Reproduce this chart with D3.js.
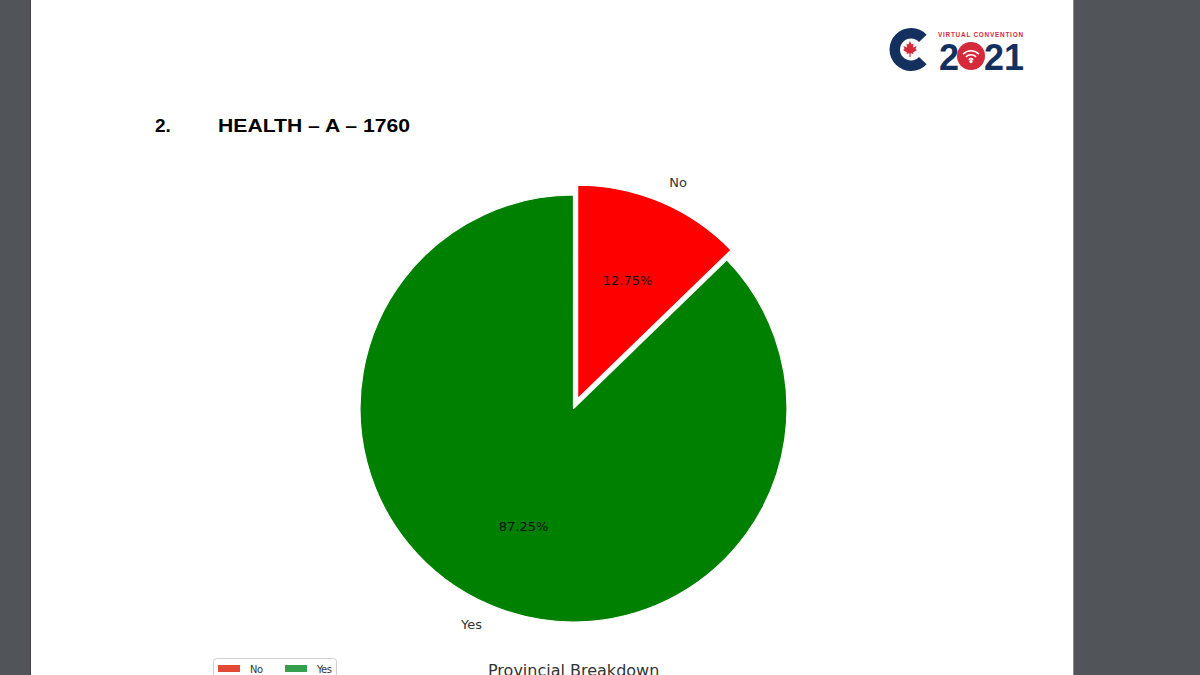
<!DOCTYPE html>
<html>
<head>
<meta charset="utf-8">
<script src="https://cdn.jsdelivr.net/npm/d3@7"></script>
<style>
  html, body { margin: 0; padding: 0; background: #515559; }
  svg { display: block; }
</style>
</head>
<body>
<svg id="chart" width="1200" height="675"></svg>
<script>
// ---- data ----
const categories = ["No", "Yes"];
const values = [12.75, 87.25];
const explode = [0.05, 0];
const sliceColors = ["#ff0000", "#008000"];
const legendColors = ["#e24a33", "#34a04f"];
const titleNumber = "2.";
const titleText = "HEALTH \u2013 A \u2013 1760";
const nextTitle = "Provincial Breakdown";

const svg = d3.select("#chart");

// page
svg.append("rect").attr("x", 0).attr("y", 0).attr("width", 1200).attr("height", 675).attr("fill", "#515559");
svg.append("rect").attr("x", 30).attr("y", 0).attr("width", 1044).attr("height", 675).attr("fill", "#ffffff");
svg.append("line").attr("x1", 30.5).attr("x2", 30.5).attr("y1", 0).attr("y2", 675).attr("stroke", "#3f4346").attr("stroke-width", 1);
svg.append("line").attr("x1", 1073.5).attr("x2", 1073.5).attr("y1", 0).attr("y2", 675).attr("stroke", "#8a8e90").attr("stroke-width", 1);

// title
svg.append("text").attr("x", 155).attr("y", 132)
  .attr("font-family", "Liberation Sans, Arial, sans-serif").attr("font-weight", "bold")
  .attr("font-size", 19).attr("fill", "#000").text(titleNumber);
svg.append("text").attr("x", 218).attr("y", 132)
  .attr("font-family", "Liberation Sans, Arial, sans-serif").attr("font-weight", "bold")
  .attr("font-size", 19).attr("fill", "#000")
  .attr("textLength", 192).attr("lengthAdjust", "spacingAndGlyphs")
  .text(titleText);

// logo
const logo = svg.append("g");
const navy = "#13305f", lred = "#d42a3a";
const cArc = d3.arc().innerRadius(11).outerRadius(21.5)
  .startAngle(Math.PI * 0.74).endAngle(Math.PI * 2.26);
logo.append("path").attr("transform", "translate(911,49.5)").attr("d", cArc()).attr("fill", navy);
// maple leaf (simplified)
const leaf = "M0,-8 L1.6,-4.5 L3.5,-5.5 L3,-1.5 L6.5,-3 L5.5,0 L7,1 L3,3.5 L3.5,5 L0.6,4.2 L0.6,8 L-0.6,8 L-0.6,4.2 L-3.5,5 L-3,3.5 L-7,1 L-5.5,0 L-6.5,-3 L-3,-1.5 L-3.5,-5.5 L-1.6,-4.5 Z";
logo.append("path").attr("transform", "translate(910,49)").attr("d", leaf).attr("fill", lred);
logo.append("text").attr("x", 938).attr("y", 37)
  .attr("font-family", "Liberation Sans, Arial, sans-serif").attr("font-weight", "bold")
  .attr("font-size", 6.4).attr("fill", lred)
  .attr("textLength", 85).attr("lengthAdjust", "spacing").text("VIRTUAL CONVENTION");
logo.append("text").attr("x", 939).attr("y", 70)
  .attr("font-family", "Liberation Sans, Arial, sans-serif").attr("font-weight", "bold")
  .attr("font-size", 36).attr("fill", navy).text("2");
logo.append("circle").attr("cx", 971).attr("cy", 56).attr("r", 14).attr("fill", lred);
const wifi = logo.append("g").attr("transform", "translate(971,62)");
[4, 8, 12].forEach(r => {
  wifi.append("path")
    .attr("d", d3.arc().innerRadius(r - 1.6).outerRadius(r).startAngle(-Math.PI / 4).endAngle(Math.PI / 4)())
    .attr("fill", "#fff");
});
wifi.append("circle").attr("cx", 0).attr("cy", -0.5).attr("r", 1.7).attr("fill", "#fff");
logo.append("text").attr("x", 984).attr("y", 70)
  .attr("font-family", "Liberation Sans, Arial, sans-serif").attr("font-weight", "bold")
  .attr("font-size", 36).attr("fill", navy)
  .attr("textLength", 40).attr("lengthAdjust", "spacingAndGlyphs").text("21");

// pie
const cx = 573.5, cy = 408.5, R = 213.5;
const pie = d3.pie().sort(null).value(d => d)(values);
const arc = d3.arc().innerRadius(0).outerRadius(R);
const g = svg.append("g").attr("transform", `translate(${cx},${cy})`);

pie.forEach((p, i) => {
  const mid = (p.startAngle + p.endAngle) / 2;
  const dx = Math.sin(mid) * explode[i] * R;
  const dy = -Math.cos(mid) * explode[i] * R;
  const sg = g.append("g").attr("transform", `translate(${dx},${dy})`);
  sg.append("path").attr("d", arc(p)).attr("fill", sliceColors[i])
    .attr("stroke", "#ffffff").attr("stroke-width", 1.2).attr("stroke-linejoin", "round");
  const lx = Math.sin(mid) * R * 1.1, ly = -Math.cos(mid) * R * 1.1;
  sg.append("text").attr("x", lx).attr("y", ly)
    .attr("text-anchor", lx >= 0 ? "start" : "end")
    .attr("dominant-baseline", "central")
    .attr("font-family", "DejaVu Sans, sans-serif").attr("font-size", 13)
    .attr("fill", "#333333").text(categories[i]);
  const px = Math.sin(mid) * R * 0.6, py = -Math.cos(mid) * R * 0.6;
  sg.append("text").attr("x", px).attr("y", py)
    .attr("text-anchor", "middle").attr("dominant-baseline", "central")
    .attr("font-family", "DejaVu Sans, sans-serif").attr("font-size", 13)
    .attr("fill", "#111111").text(values[i].toFixed(2) + "%");
});

// legend (cut off at bottom)
const lg = svg.append("g");
lg.append("rect").attr("x", 213.5).attr("y", 658.5).attr("width", 123).attr("height", 30).attr("rx", 3)
  .attr("fill", "#fff").attr("stroke", "#d0d0d0");
const legX = [218, 285];
categories.forEach((c, i) => {
  lg.append("rect").attr("x", legX[i]).attr("y", 665).attr("width", 22).attr("height", 7).attr("fill", legendColors[i]);
  lg.append("text").attr("x", legX[i] + 32).attr("y", 673)
    .attr("font-family", "DejaVu Sans Condensed, DejaVu Sans, sans-serif").attr("font-size", 11)
    .attr("fill", "#333").attr("letter-spacing", -0.5).text(c);
});

// next chart title (cut off at the page bottom, as in the reference)
svg.append("text").attr("x", 488).attr("y", 676)
  .attr("font-family", "DejaVu Sans, sans-serif").attr("font-size", 16)
  .attr("fill", "#333").text(nextTitle);
</script>
</body>
</html>
